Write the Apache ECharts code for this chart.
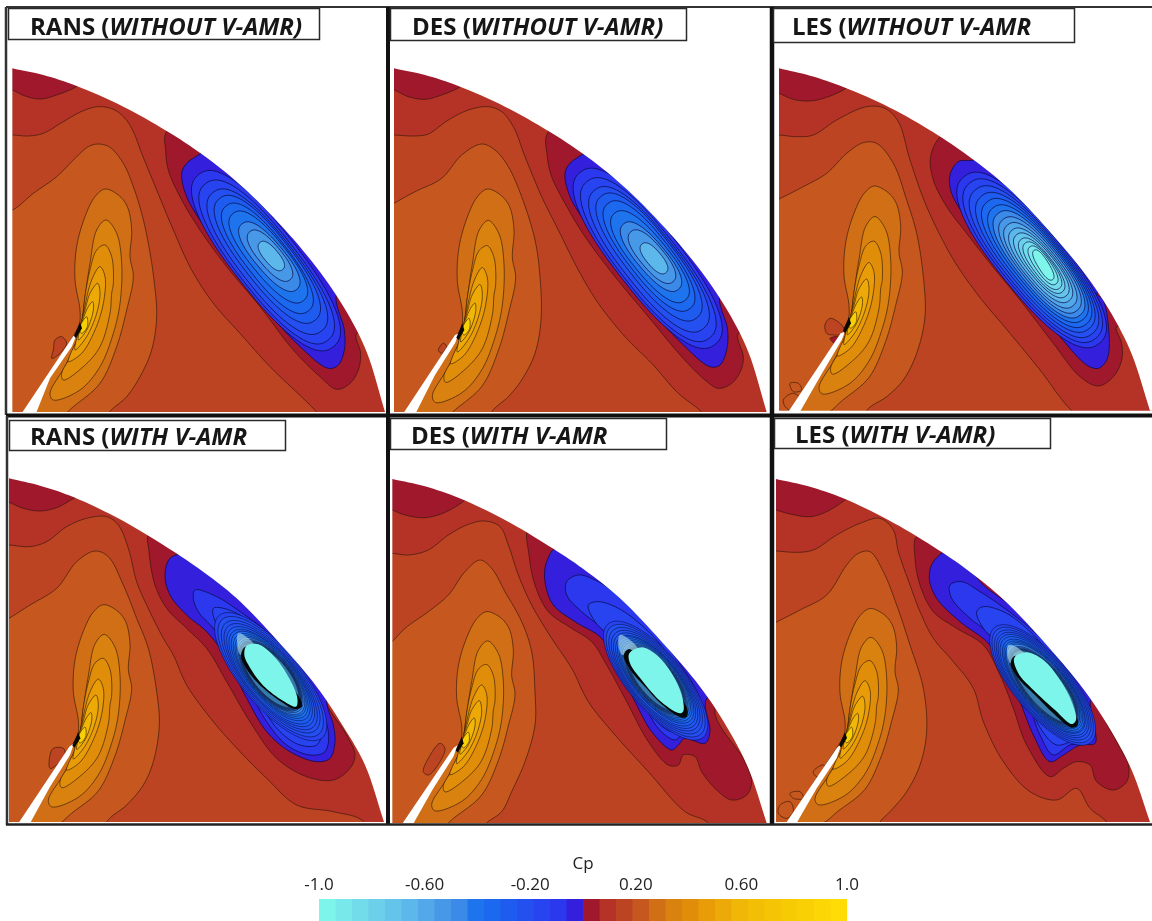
<!DOCTYPE html>
<html><head><meta charset="utf-8">
<style>html,body{margin:0;background:#fff}#c{width:1152px;height:921px;filter:blur(0.45px)}</style>
<script src="https://cdn.jsdelivr.net/npm/echarts@6/dist/echarts.min.js"></script>
</head><body><div id="c"></div>
<script>
// ---------- Cp scale ----------
const cpTicks = [-1, -0.6, -0.2, 0.2, 0.6, 1];
const cpTickLabels = ['-1.0', '-0.60', '-0.20', '0.20', '0.60', '1.0'];
const cpBinColors = ['#7ef5ea','#78e8ea','#72dcea','#6cd0ea','#64c4ea','#5cb8ea','#52a8e8','#4898e8','#3c8ae8','#1e74ec','#1c68ee','#1e5cf0','#2450f0','#2844f0','#2c38ee','#3420dc',
  '#a0182c','#b53227','#bd4423','#c6571e','#d06f16','#d9820f','#e08d0a','#e89d08','#eda907','#f0b608','#f3bf06','#f4c405','#f7cb04','#f9d004','#fcd605','#ffdc05'];
const panelTitles = [['RANS (','WITHOUT V-AMR)'],['DES (','WITHOUT V-AMR)'],['LES (','WITHOUT V-AMR'],['RANS (','WITH V-AMR'],['DES (','WITH V-AMR'],['LES (','WITH V-AMR)']];

// ---------- Inner lobe contours above the jet (same family in all panels) ----------
const lobeContours = [
 [0.28,[[315,567],[355,585],[382,620],[395,690],[390,770],[400,830],[380,930],[350,1040],[300,1150],[220,1220],[170,1260],[90,1260],[225,1000],[238,975],[240,930],[225,840],[230,740],[255,650],[285,590]]],
 [0.34,[[318,660],[350,700],[365,790],[360,910],[340,1000],[300,1100],[240,1170],[160,1200],[150,1180],[200,1090],[240,990],[255,890],[270,790],[290,690]]],
 [0.41,[[315,735],[335,770],[340,850],[335,880],[330,940],[300,1040],[250,1100],[190,1140],[185,1120],[230,1040],[245,980],[255,890],[270,810],[290,750]]],
 [0.47,[[300,800],[315,830],[310,910],[285,990],[245,1060],[205,1085],[210,1065],[235,1010],[250,940],[275,840]]],
 [0.53,[[293,850],[300,880],[290,940],[260,1010],[225,1050],[230,1015],[255,930],[270,880]]],
 [0.59,[[278,905],[280,930],[260,990],[235,1020],[245,970],[265,920]]],
 [0.84,[[260,950],[262,980],[245,1000],[238,985]]]
];
const lobeTip = [[240,965],[246,985],[228,1015],[222,1008]];

// ---------- Panel 1: RANS without V-AMR ----------
const dome_P1 = [[37,205],[130,225],[230,258],[370,320],[500,393],[605,462],[720,554],[850,684],[960,816],[1040,936],[1100,1056],[1155,1236]];
const contours_P1 = [
 [0.03,[[10,262],[37,270],[75,288],[120,297],[170,285],[232,258],[260,230],[150,150],[10,150]]],
 [0.16,[[0,405],[40,405],[85,408],[130,400],[190,365],[250,332],[295,320],[340,328],[375,355],[400,395],[425,460],[470,570],[520,690],[575,810],[640,910],[720,1000],[810,1100],[950,1236],[1000,1300],[500,1400],[0,1400]]],
 [0.22,[[0,632],[37,630],[100,580],[170,530],[230,470],[265,440],[295,432],[330,442],[370,490],[400,560],[425,640],[445,730],[462,840],[470,950],[455,1050],[420,1130],[380,1190],[325,1240],[300,1300],[0,1300]]]
];
const patches_P1 = [[0.16,[[160,1050],[165,1020],[185,1010],[200,1030],[180,1060],[155,1075]]]];
const suction_P1 = [
 [0.03,[[500,395],[497,450],[505,510],[540,590],[600,690],[680,800],[780,920],[880,1050],[960,1130],[1010,1168],[1050,1150],[1075,1110],[1082,1060],[1070,1000],[1200,1000],[1000,500],[700,300]]],
 [-0.03,[[600,462],[560,490],[545,520],[560,590],[620,690],[700,800],[800,930],[900,1040],[985,1105],[1015,1095],[1033,1050],[1033,990],[1010,880],[1100,800],[800,500],[650,430]]]
];
const rings_P1 = [[-0.09,798,782,328,98,52],[-0.16,800,786,298,90,52],[-0.22,802,785,264,82,52],[-0.28,802,778,232,73,52],[-0.34,802,775,200,64,52],[-0.41,805,771,168,55,51],[-0.47,808,770,128,44,50],[-0.53,810,767,94,34,50],[-0.66,814,768,53,22,50]];
const halo_P1 = null, plume_P1 = null, core_P1 = null, fringe_P1 = null;
const jet_P1 = [[65,1240],[108,1240],[150,1135],[215,1040],[230,1005],[220,1008]];

// ---------- Panel 2: DES without V-AMR ----------
const dome_P2 = [[27,205],[120,225],[220,258],[360,320],[490,393],[595,462],[710,554],[840,684],[950,816],[1030,936],[1090,1056],[1145,1236]];
const contours_P2 = [
 [0.03,[[0,265],[27,270],[70,290],[120,298],[170,285],[230,258],[260,230],[150,150],[0,150]]],
 [0.16,[[0,405],[27,405],[90,408],[130,402],[190,360],[250,330],[310,320],[350,335],[385,380],[420,470],[470,590],[520,690],[580,810],[640,910],[720,1010],[800,1090],[880,1180],[950,1236],[1000,1300],[500,1400],[0,1400]]],
 [0.22,[[0,625],[27,610],[90,575],[170,535],[230,465],[290,432],[330,450],[370,500],[410,590],[450,720],[465,830],[468,960],[450,1060],[410,1140],[370,1190],[320,1236],[300,1300],[0,1300]]]
];
const patches_P2 = [[0.16,[[160,1050],[175,1030],[185,1040],[170,1060]]]];
const suction_P2 = [
 [0.03,[[490,395],[487,470],[500,530],[540,610],[600,710],[690,830],[790,950],[890,1070],[960,1140],[1000,1165],[1040,1150],[1068,1110],[1075,1070],[1060,1000],[1200,1000],[1000,500],[700,300]]],
 [-0.03,[[595,462],[555,490],[540,520],[555,590],[610,680],[690,790],[790,920],[890,1030],[975,1100],[1005,1095],[1025,1050],[1028,990],[1005,880],[1100,800],[800,500],[650,430]]]
];
const rings_P2 = [[-0.09,788,775,328,98,52],[-0.16,790,779,298,90,52],[-0.22,792,778,264,82,52],[-0.28,792,771,232,73,52],[-0.34,792,768,200,64,52],[-0.41,795,770,168,55,51],[-0.47,798,770,128,44,50],[-0.53,801,770,98,36,50],[-0.66,807,775,56,23,50]];
const halo_P2 = null, plume_P2 = null, core_P2 = null, fringe_P2 = null;
const jet_P2 = [[55,1240],[92,1240],[150,1125],[210,1030],[222,1000],[210,1005]];

// ---------- Panel 3: LES without V-AMR ----------
const dome_P3 = [[27,205],[120,227],[220,261],[360,323],[490,397],[595,468],[710,560],[835,690],[945,822],[1025,942],[1085,1062],[1140,1232]];
const contours_P3 = [
 [0.03,[[0,270],[27,280],[70,298],[120,303],[170,292],[232,262],[260,230],[150,150],[0,150]]],
 [0.16,[[0,405],[27,405],[80,410],[130,405],[200,360],[290,320],[345,325],[385,365],[420,480],[470,620],[545,770],[620,880],[720,1000],[810,1110],[905,1232],[1000,1300],[500,1400],[0,1400]]],
 [0.22,[[0,610],[27,597],[100,560],[170,520],[230,460],[280,428],[320,430],[370,490],[410,600],[440,700],[460,830],[465,950],[440,1060],[400,1140],[350,1190],[290,1232],[280,1300],[0,1300]]]
];
const patches_P3 = [
 [0.16,[[165,975],[180,955],[215,975],[225,1000],[190,1005],[170,1000]]],
 [0.03,[[180,1015],[205,1010],[195,1030]]],
 [0.22,[[60,1150],[85,1150],[95,1170],[70,1175]]],
 [0.22,[[40,1200],[70,1180],[100,1210],[80,1235],[50,1225]]]
];
const suction_P3 = [
 [0.03,[[515,405],[482,470],[490,540],[530,620],[590,700],[660,790],[750,900],[850,1030],[930,1130],[985,1158],[1030,1130],[1055,1080],[1055,1030],[1040,980],[1200,1000],[1000,500],[700,300]]],
 [-0.03,[[615,478],[565,485],[540,525],[545,580],[600,670],[680,770],[780,900],[870,1010],[950,1095],[985,1105],[1010,1080],[1018,1030],[1000,900],[980,880],[1100,800],[800,500],[650,430]]]
];
const rings_P3 = [[-0.09,785,780,322,100,51],[-0.16,788,782,300,94,51],[-0.22,792,785,278,88,51],[-0.28,796,787,256,82,51],[-0.34,800,789,236,76,51],[-0.41,804,791,215,70,51],[-0.47,807,793,196,64,51],[-0.53,810,795,176,58,51],[-0.59,811,796,156,52,51],[-0.66,812,796,136,46,51],[-0.72,814,796,118,40,51],[-0.78,815,797,100,34,52],[-0.84,817,797,85,29,53],[-0.91,819,796,68,23,55],[-0.97,820,795,52,16,58]];
const halo_P3 = null, plume_P3 = null, core_P3 = null, fringe_P3 = null;
const jet_P3 = [[55,1235],[90,1235],[150,1130],[215,1020],[225,995],[212,1000]];

// ---------- Panel 4: RANS with V-AMR ----------
const dome_P4 = [[27,190],[120,212],[222,247],[360,313],[490,390],[595,460],[710,550],[835,680],[950,815],[1030,935],[1095,1050],[1152,1221]];
const contours_P4 = [
 [0.03,[[0,255],[27,262],[70,280],[120,288],[170,278],[225,248],[260,230],[150,150],[0,150]]],
 [0.16,[[0,390],[27,390],[90,395],[140,380],[200,335],[260,310],[320,305],[355,330],[385,400],[410,500],[440,570],[490,670],[520,720],[560,810],[640,920],[720,1010],[800,1090],[890,1170],[1000,1190],[1090,1220],[1100,1300],[500,1400],[0,1400]]],
 [0.22,[[0,625],[27,610],[90,570],[170,520],[230,440],[285,408],[325,425],[370,510],[410,610],[445,700],[470,830],[478,930],[460,1040],[430,1110],[380,1170],[320,1221],[300,1300],[0,1300]]]
];
const patches_P4 = [[0.16,[[150,1020],[160,1000],[190,1000],[195,1020],[170,1050],[150,1060]]]];
const suction_P4 = [
 [0.03,[[447,355],[447,410],[465,510],[500,580],[560,640],[620,700],[680,800],[750,920],[830,1030],[920,1085],[1000,1095],[1050,1060],[1065,1020],[1040,960],[980,850],[1100,800],[800,500],[550,300]]],
 [-0.03,[[550,418],[510,430],[495,480],[510,540],[560,600],[620,650],[680,730],[740,850],[800,950],[870,1010],[950,1040],[990,1030],[1005,980],[1000,930],[980,860],[1000,780],[800,600],[720,545],[640,490],[590,445]]],
 [-0.09,[[585,525],[650,545],[720,590],[800,650],[880,740],[950,860],[985,950],[975,1010],[930,1020],[860,990],[800,920],[750,830],[700,720],[640,640],[595,590],[580,550]]],
 [-0.16,[[640,580],[700,590],[780,650],[860,740],[930,860],[965,950],[950,990],[900,990],[840,950],[790,880],[740,780],[690,690],[650,630]]]
];
const rings_P4 = [[-0.16,812,785,240,88,50],[-0.20,812,785,225,84,50],[-0.22,812,785,210,80,50],[-0.25,812,785,198,76,50],[-0.28,812,785,186,73,50],[-0.31,812,785,176,70,50],[-0.34,812,783,166,67,50],[-0.38,812,783,157,64,50],[-0.41,812,783,149,62,50],[-0.44,812,783,142,60,50],[-0.47,812,783,135,58,50],[-0.50,812,783,129,56,50],[-0.53,812,783,124,54,50],[-0.56,812,783,120,53,50],[-0.60,812,783,116,52,50]];
const halo_P4 = [0,812,783,130,60,50];
const plume_P4 = [[715,655],[745,670],[770,700],[745,700],[722,720],[712,690]];
const fringe_P4 = [[723,722],[738,695],[900,850],[905,875],[885,882],[840,858],[785,815],[745,770]];
const core_P4 = [[740,692],[775,688],[820,722],[865,785],[892,850],[888,875],[850,858],[790,812],[750,758],[733,720]];
const jet_P4 = [[55,1225],[90,1225],[150,1115],[210,1020],[222,985],[208,995]];

// ---------- Panel 5: DES with V-AMR ----------
const dome_P5 = [[22,192],[120,214],[222,249],[360,315],[490,392],[595,462],[705,550],[830,680],[945,815],[1025,935],[1090,1060],[1145,1224]];
const contours_P5 = [
 [0.03,[[0,275],[22,285],[60,300],[120,308],[180,292],[240,255],[260,230],[150,150],[0,150]]],
 [0.16,[[0,415],[22,415],[70,420],[130,405],[190,360],[250,328],[300,318],[345,335],[370,390],[400,480],[440,570],[500,670],[560,760],[610,860],[690,960],[790,1070],[900,1190],[970,1224],[1000,1300],[500,1400],[0,1400]]],
 [0.22,[[0,700],[22,680],[60,640],[130,590],[190,540],[240,470],[285,435],[320,460],[360,530],[410,620],[440,710],[450,830],[450,930],[420,1040],[380,1130],[350,1190],[300,1230],[280,1300],[0,1300]]]
];
const patches_P5 = [[0.16,[[115,1070],[130,1030],[165,985],[180,1000],[165,1040],[130,1080]]]];
const suction_P5 = [
 [0.03,[[430,345],[432,420],[450,510],[490,590],[560,640],[620,680],[665,750],[720,850],[790,980],[850,1050],[880,1050],[895,1020],[930,1025],[950,1070],[990,1120],[1040,1155],[1085,1140],[1100,1100],[1080,1040],[990,880],[1150,800],[800,500],[520,380]]],
 [-0.03,[[520,395],[485,440],[480,500],[505,570],[570,620],[650,670],[700,760],[750,860],[800,950],[860,1005],[880,990],[900,970],[960,985],[975,950],[965,850],[1100,800],[800,550]]],
 [-0.09,[[580,480],[545,500],[545,540],[590,590],[650,640],[710,720],[770,850],[820,940],[870,975],[900,950],[950,955],[960,920],[940,840],[880,740],[800,640],[700,540],[630,495]]],
 [-0.16,[[640,560],[610,570],[630,620],[690,680],[750,780],[800,900],[860,950],[900,930],[940,930],[945,900],[925,830],[860,730],[780,640],[700,580]]]
];
const rings_P5 = [[-0.16,812,797,222,84,50],[-0.20,812,797,210,81,50],[-0.22,812,797,198,78,50],[-0.25,812,797,187,75,50],[-0.28,812,797,177,72,50],[-0.31,812,797,168,69,50],[-0.34,812,795,160,66,50],[-0.38,812,795,152,64,50],[-0.41,812,795,145,62,50],[-0.44,812,795,138,60,50],[-0.47,812,795,132,58,50],[-0.50,812,795,127,56,50],[-0.53,812,795,122,54,50],[-0.56,812,795,118,52,50],[-0.60,812,795,115,50,50]];
const halo_P5 = [0,812,797,125,58,50];
const plume_P5 = [[705,660],[735,675],[760,705],[730,710],[712,720],[700,690]];
const fringe_P5 = [[716,722],[733,702],[905,875],[905,905],[890,908],[830,868],[780,815],[740,770]];
const core_P5 = [[733,715],[770,697],[815,720],[860,775],[890,840],[895,888],[885,895],[830,862],[770,795],[735,745]];
const jet_P5 = [[52,1226],[85,1226],[145,1120],[205,1025],[218,990],[205,1000]];

// ---------- Panel 6: LES with V-AMR ----------
const dome_P6 = [[18,192],[115,214],[218,249],[355,315],[490,395],[595,467],[705,558],[830,690],[940,822],[1020,942],[1085,1065],[1140,1221]];
const contours_P6 = [
 [0.03,[[0,280],[18,285],[60,297],[120,305],[170,290],[230,252],[260,230],[150,150],[0,150]]],
 [0.16,[[0,408],[18,408],[80,412],[130,405],[200,360],[270,325],[330,310],[370,345],[385,410],[420,510],[450,590],[490,670],[550,740],[610,820],[640,920],[700,1040],[780,1130],[860,1155],[920,1120],[960,1180],[1010,1221],[1050,1300],[500,1400],[0,1400]]],
 [0.22,[[0,632],[18,622],[90,585],[170,540],[230,450],[265,415],[300,410],[340,470],[380,570],[420,690],[460,820],[470,950],[450,1050],[410,1130],[360,1190],[330,1221],[300,1300],[0,1300]]]
];
const patches_P6 = [
 [0.22,[[30,1170],[60,1160],[70,1190],[50,1210],[25,1195]]],
 [0.22,[[60,1135],[90,1130],[100,1150],[70,1150]]],
 [0.22,[[130,1070],[160,1050],[170,1070],[140,1085]]]
];
const suction_P6 = [
 [0.03,[[440,365],[435,430],[450,510],[490,590],[560,640],[640,690],[690,780],[730,880],[770,990],[840,1085],[880,1060],[920,1040],[960,1050],[980,1100],[1030,1125],[1070,1100],[1075,1050],[1040,980],[1000,880],[1150,800],[800,500],[530,400]]],
 [-0.03,[[540,405],[490,440],[478,490],[500,550],[570,620],[650,680],[700,750],[750,860],[790,960],[840,1040],[880,1020],[930,990],[975,985],[975,940],[965,850],[1100,800],[760,600],[700,555],[640,510],[590,450]]],
 [-0.09,[[575,500],[540,510],[545,550],[600,610],[650,650],[720,750],[770,850],[810,960],[850,1020],[900,990],[950,985],[960,930],[940,860],[860,720],[780,640],[690,570],[630,530]]],
 [-0.16,[[640,575],[620,590],[640,640],[700,700],[760,800],[800,920],[860,990],[920,970],[950,960],[950,920],[920,840],[850,730],[770,640],[700,590]]]
];
const rings_P6 = [[-0.16,818,810,225,86,50],[-0.20,818,810,215,83,50],[-0.22,818,810,205,80,50],[-0.25,818,810,196,77,50],[-0.28,818,810,188,74,50],[-0.31,818,810,180,71,50],[-0.34,820,812,173,68,50],[-0.38,820,812,166,66,50],[-0.41,820,812,160,64,50],[-0.44,820,812,154,62,50],[-0.47,822,815,149,60,50],[-0.50,822,815,145,58,50],[-0.53,822,815,141,56,50],[-0.56,822,815,138,54,50],[-0.60,822,815,135,52,50]];
const halo_P6 = [0,822,815,142,60,50];
const plume_P6 = [[715,690],[745,700],[770,725],[740,730],[722,745],[712,720]];
const fringe_P6 = [[722,745],[737,722],[920,905],[922,932],[905,938],[850,895],[795,840],[745,790]];
const core_P6 = [[733,728],[770,712],[820,735],[870,795],[905,860],[918,915],[905,927],[855,885],[790,825],[745,775]];
const jet_P6 = [[48,1224],[80,1224],[140,1120],[200,1030],[215,985],[200,1000]];

// ---------- Layout (not data) ----------
const frames = [
 {ox:0,  oy:0,  l:8,  r:386, t:8,  b:413, fit:[0,0,1],       d:dome_P1,c:contours_P1,p:patches_P1,s:suction_P1,g:rings_P1,h:halo_P1,u:plume_P1,f:fringe_P1,k:core_P1,j:jet_P1, box:[8,8,311,31],  tx:30,  ty:16},
 {ox:385,oy:0,  l:390,r:770, t:8,  b:413, fit:[-8,5,1.012],  d:dome_P2,c:contours_P2,p:patches_P2,s:suction_P2,g:rings_P2,h:halo_P2,u:plume_P2,f:fringe_P2,k:core_P2,j:jet_P2, box:[390,8,296,32],tx:412, ty:16},
 {ox:770,oy:0,  l:774,r:1152,t:8,  b:413, fit:[-3,-15,0.985],d:dome_P3,c:contours_P3,p:patches_P3,s:suction_P3,g:rings_P3,h:halo_P3,u:plume_P3,f:fringe_P3,k:core_P3,j:jet_P3, box:[773,8,301,34],tx:792, ty:16},
 {ox:0,  oy:415,l:8,  r:386, t:419,b:823, fit:[-5,-15,0.958],d:dome_P4,c:contours_P4,p:patches_P4,s:suction_P4,g:rings_P4,h:halo_P4,u:plume_P4,f:fringe_P4,k:core_P4,j:jet_P4, box:[9,420,276,30],tx:30,  ty:426},
 {ox:385,oy:415,l:390,r:770, t:419,b:823, fit:[-10,0,0.944], d:dome_P5,c:contours_P5,p:patches_P5,s:suction_P5,g:rings_P5,h:halo_P5,u:plume_P5,f:fringe_P5,k:core_P5,j:jet_P5, box:[390,418,276,31],tx:411, ty:425},
 {ox:770,oy:415,l:775,r:1152,t:419,b:823, fit:[-15,-15,0.93],d:dome_P6,c:contours_P6,p:patches_P6,s:suction_P6,g:rings_P6,h:halo_P6,u:plume_P6,f:fringe_P6,k:core_P6,j:jet_P6, box:[774,418,276,30],tx:795, ty:424}
];
const frameLines = [
 [6,7,1152,7,2,'#333'],[6,7,6,415,2.5,'#333'],[388,7,388,415,4,'#111'],[772,7,772,415,4.5,'#111'],
 [6,415.5,1152,415.5,4,'#111'],[7,416,7,825,2.5,'#333'],[388,416,388,825,4,'#111'],[772,416,772,825,4.5,'#111'],[6,824.5,1152,824.5,2.5,'#222']
];

function cpColor(cp){ return cpBinColors[Math.max(0,Math.min(31,Math.floor((cp+1)/0.0625)))]; }
function spline(pts,closed){
  const n=pts.length,out=[],N=8;
  const at=i=>{
    if(closed) return pts[(i+n)%n];
    if(i<0) return [2*pts[0][0]-pts[1][0],2*pts[0][1]-pts[1][1]];
    if(i>=n) return [2*pts[n-1][0]-pts[n-2][0],2*pts[n-1][1]-pts[n-2][1]];
    return pts[i];
  };
  const m=closed?n:n-1;
  const step=(p,q)=>Math.max(1e-3,Math.sqrt(Math.hypot(q[0]-p[0],q[1]-p[1])));
  const mix=(p,q,a,b,t)=>[0,1].map(j=>((b-t)*p[j]+(t-a)*q[j])/(b-a));
  for(let i=0;i<m;i++){
    const P0=at(i-1),P1=at(i),P2=at(i+1),P3=at(i+2);
    const t0=0,t1=t0+step(P0,P1),t2=t1+step(P1,P2),t3=t2+step(P2,P3);
    for(let k=0;k<N;k++){
      const t=t1+(t2-t1)*k/N;
      const A1=mix(P0,P1,t0,t1,t),A2=mix(P1,P2,t1,t2,t),A3=mix(P2,P3,t2,t3,t);
      const B1=mix(A1,A2,t0,t2,t),B2=mix(A2,A3,t1,t3,t);
      out.push(mix(B1,B2,t1,t2,t));
    }
  }
  if(!closed) out.push(pts[n-1]);
  return out;
}
function ellipse(r,n){
  const [cx,cy,a,b,ang]=r.slice(1),th=ang*Math.PI/180,out=[],e=2/n;
  const pw=v=>Math.sign(v)*Math.pow(Math.abs(v),e);
  for(let i=0;i<72;i++){const t=i/72*2*Math.PI,c=pw(Math.cos(t)),s=pw(Math.sin(t));
    out.push([cx+a*c*Math.cos(th)-b*s*Math.sin(th),cy+a*c*Math.sin(th)+b*s*Math.cos(th)]);}
  return out;
}
const LINE='rgba(45,20,8,.68)', BLUE='rgba(6,10,70,.8)';
function buildLayers(P){
  const L=[];
  const [dx,dy,sy]=P.fit;
  const fitPts=a=>a.map(q=>[q[0]+dx,975+dy+(q[1]-975)*sy]);
  L.push({pts:[[-300,-300],[2000,-300],[2000,2000],[-300,2000]],fill:cpColor(0.09)});
  P.c.forEach(x=>L.push({pts:spline(x[1],true),fill:cpColor(x[0]),stroke:LINE}));
  lobeContours.forEach(x=>L.push({pts:spline(fitPts(x[1]),true),fill:cpColor(x[0]),stroke:LINE}));
  P.p.forEach(x=>L.push({pts:spline(x[1],true),fill:cpColor(x[0]),stroke:LINE}));
  P.s.forEach(x=>L.push({pts:spline(x[1],true),fill:cpColor(x[0]),stroke:x[0]<0?BLUE:LINE}));
  const thin=!!P.k;
  P.g.forEach(r=>L.push({pts:ellipse(r,thin?2:2.4),fill:cpColor(r[0]),stroke:BLUE,w:thin?0.7:0.9}));
  if(P.h) L.push({pts:ellipse(P.h,2),fill:'rgba(0,22,44,.32)'});
  if(P.u) L.push({pts:spline(P.u,true),fill:'rgba(195,238,238,.55)'});
  if(P.f) L.push({pts:spline(P.f,true),fill:'#050808'});
  if(P.k) L.push({pts:spline(P.k,true),fill:cpBinColors[0]});
  L.push({pts:P.j,fill:'#ffffff'});
  L.push({pts:fitPts(lobeTip),fill:'#0b0806'});
  const arc=spline(P.d,false),s=P.d[0],e=P.d[P.d.length-1];
  L.push({pts:[[s[0]-3,s[1]]].concat(arc,[[e[0]+400,e[1]],[e[0]+400,-300],[s[0]-3,-300]]),fill:'#ffffff'});
  L.push({pts:[[s[0]-400,-300],[s[0],-300],[s[0],2000],[s[0]-400,2000]],fill:'#ffffff'});
  L.push({pts:[[-300,e[1]],[2000,e[1]],[2000,2000],[-300,2000]],fill:'#ffffff'});
  return L;
}

const grids=[],xAxes=[],yAxes=[],series=[],titles=[],graphics=[];
frames.forEach((P,i)=>{
  grids.push({left:P.l,top:P.t,width:P.r-P.l,height:P.b-P.t,show:false});
  xAxes.push({type:'value',gridIndex:i,show:false,min:(P.l-P.ox)*3,max:(P.r-P.ox)*3});
  yAxes.push({type:'value',gridIndex:i,show:false,inverse:true,min:(P.t-P.oy)*3,max:(P.b-P.oy)*3});
  const layers=buildLayers(P);
  series.push({type:'custom',xAxisIndex:i,yAxisIndex:i,clip:true,silent:true,animation:false,
    data:layers.map((_,k)=>[k]),
    renderItem:(params,api)=>{const Y=layers[params.dataIndex];
      return {type:'polygon',shape:{points:Y.pts.map(q=>api.coord(q))},
        style:{fill:Y.fill,stroke:Y.stroke||null,lineWidth:Y.w||0.9}};}});
  const b=P.box;
  graphics.push({type:'rect',z:50,silent:true,shape:{x:b[0]+.5,y:b[1]+.5,width:b[2],height:b[3]},style:{fill:'#fff',stroke:'#2a2a2a',lineWidth:1.5}});
  titles.push({left:P.tx,top:P.ty,z:100,text:`{a|${panelTitles[i][0]}}{b|${panelTitles[i][1]}}`,padding:0,
    textStyle:{rich:{a:{fontFamily:'Open Sans',fontWeight:'bold',fontSize:24,color:'#161616'},b:{fontFamily:'Open Sans',fontWeight:'bold',fontStyle:'italic',fontSize:24,color:'#161616'}}}});
});
frameLines.forEach(l=>graphics.push({type:'line',z:40,silent:true,shape:{x1:l[0],y1:l[1],x2:l[2],y2:l[3]},style:{stroke:l[5],lineWidth:l[4]}}));

// colour bar
const cb=6;
grids.push({left:319,top:899,width:528,height:22,show:false});
xAxes.push({type:'value',gridIndex:cb,min:-1,max:1,position:'top',name:'Cp',nameLocation:'middle',nameGap:26,
  nameTextStyle:{fontFamily:'Open Sans',fontSize:17,color:'#222'},
  axisLine:{show:false},axisTick:{show:false},splitLine:{show:false},
  axisLabel:{customValues:cpTicks,margin:5,fontFamily:'Open Sans',fontSize:17,color:'#222',showMinLabel:true,showMaxLabel:true,
    formatter:v=>cpTickLabels[cpTicks.findIndex(t=>Math.abs(t-v)<1e-6)]}});
yAxes.push({type:'value',gridIndex:cb,show:false,min:0,max:1});
series.push({type:'custom',xAxisIndex:cb,yAxisIndex:cb,silent:true,animation:false,clip:true,
  data:cpBinColors.map((_,k)=>[k]),
  renderItem:(params,api)=>{const k=params.dataIndex;
    const a=api.coord([-1+k*0.0625,1]),b=api.coord([-1+(k+1)*0.0625,0]);
    return {type:'rect',shape:{x:a[0],y:a[1],width:b[0]-a[0]+.5,height:b[1]-a[1]},style:{fill:cpBinColors[k]}};}});

const chart=echarts.init(document.getElementById('c'),null,{renderer:'canvas',width:1152,height:921});
chart.setOption({animation:false,backgroundColor:'#fff',title:titles,grid:grids,xAxis:xAxes,yAxis:yAxes,series:series,graphic:{elements:graphics}});
</script></body></html>
